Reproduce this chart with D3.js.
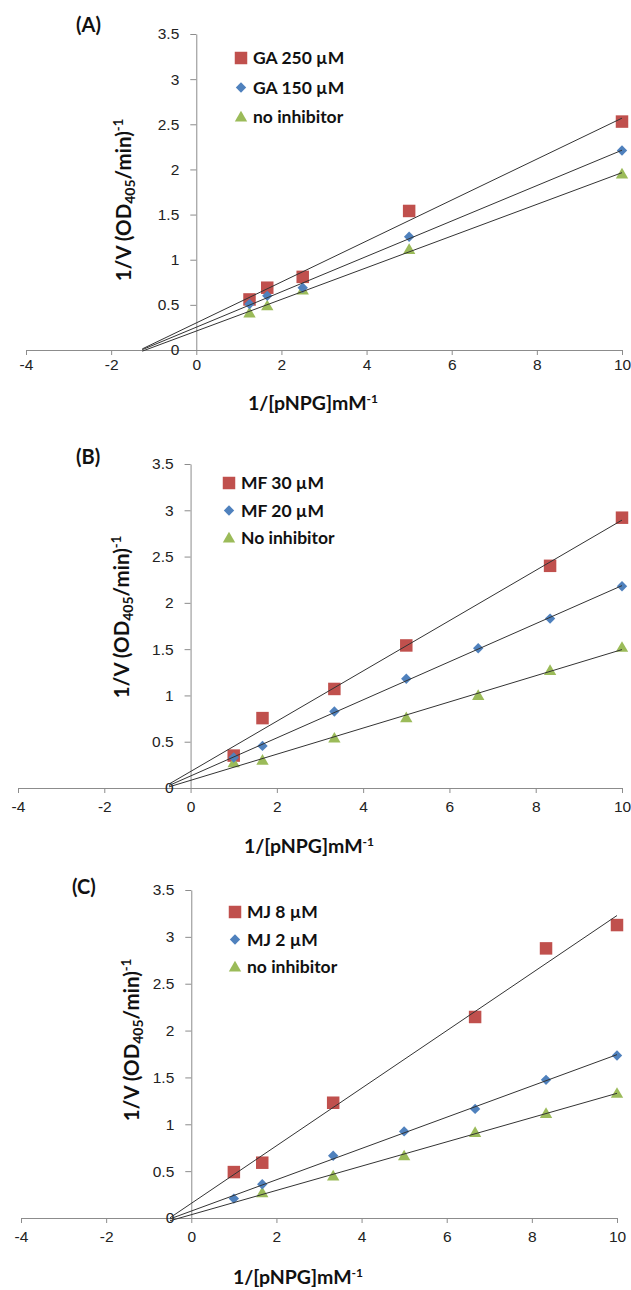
<!DOCTYPE html>
<html lang="en">
<head>
<meta charset="UTF-8">
<title>Lineweaver-Burk plots</title>
<style>
  body { margin: 0; background: #fff; }
  svg { display: block; font-family: Lato, "Open Sans", sans-serif; }
  .tick text { fill: #222; font-size: 15.5px; }
  .domain, .tick line { stroke: #8c8c8c; }
  .ttl { font-weight: bold; fill: #111; }
</style>
</head>
<body>
<svg id="chart" width="631" height="1290"></svg>
<script src="https://d3js.org/d3.v7.min.js"></script>
<script>
  // shared ticks and colours
  const xTicks = [-4, -2, 0, 2, 4, 6, 8, 10];
  const yTicks = [0, 0.5, 1, 1.5, 2, 2.5, 3, 3.5];
  const seriesColors = ["#c0504d", "#4f81bd", "#9bbb59"];
  const panelTags = ["(A)", "(B)", "(C)"];

  // (A) GA
  const xA = [1.25, 1.667, 2.5, 5, 10];
  const ga250 = [0.56, 0.69, 0.81, 1.54, 2.53];
  const ga150 = [0.51, 0.60, 0.69, 1.255, 2.21];
  const noInhA = [0.41, 0.49, 0.665, 1.115, 1.95];
  const namesA = ["GA 250 µM", "GA 150 µM", "no inhibitor"];
  const fitFromA = -1.27;

  // (B) MF
  const xB = [1, 1.667, 3.333, 5, 6.667, 8.333, 10];
  const mf30 = [0.35, 0.755, 1.07, 1.54, null, 2.40, 2.92];
  const mf20 = [0.33, 0.455, 0.827, 1.18, 1.51, 1.83, 2.18];
  const noInhB = [0.274, 0.30, 0.54, 0.76, 1.0, 1.27, 1.52];
  const namesB = ["MF 30 µM", "MF 20 µM", "No inhibitor"];
  const fitFromB = -0.5;

  // (C) MJ
  const xC = [1, 1.667, 3.333, 5, 6.667, 8.333, 10];
  const mj8 = [0.49, 0.59, 1.23, null, 2.145, 2.877, 3.126];
  const mj2 = [0.207, 0.36, 0.664, 0.924, 1.164, 1.474, 1.734];
  const noInhC = [null, 0.27, 0.45, 0.664, 0.913, 1.117, 1.331];
  const namesC = ["MJ 8 µM", "MJ 2 µM", "no inhibitor"];
  const fitFromC = -0.5;

  // pixel layout of each panel
  const layout = [
    { left: 26, right: 622, top: 34, bottom: 350, tag: [76, 25], ylab: [124, 200], xlab: [313, 403], leg: [241, 58, 29.5], pad: 4 },
    { left: 18, right: 622, top: 464, bottom: 788, tag: [76, 457], ylab: [122, 617], xlab: [309, 846], leg: [229, 483, 27.5], pad: 8 },
    { left: 21, right: 617, top: 890, bottom: 1218, tag: [72, 887], ylab: [132, 1040], xlab: [298, 1277], leg: [235, 912, 27.5], pad: 8 }
  ];

  const panels = [
    { x: xA, ys: [ga250, ga150, noInhA], names: namesA, from: fitFromA },
    { x: xB, ys: [mf30, mf20, noInhB], names: namesB, from: fitFromB },
    { x: xC, ys: [mj8, mj2, noInhC], names: namesC, from: fitFromC }
  ];

  const svg = d3.select("#chart");
  svg.append("rect").attr("width", 631).attr("height", 1290).attr("fill", "#fff");

  // least squares line, like the Excel linear trendline
  function fit(xs, ys) {
    const pts = xs.map((x, i) => [x, ys[i]]).filter(p => p[1] != null);
    const mx = d3.mean(pts, p => p[0]), my = d3.mean(pts, p => p[1]);
    const sxy = d3.sum(pts, p => (p[0] - mx) * (p[1] - my));
    const sxx = d3.sum(pts, p => (p[0] - mx) ** 2);
    const m = sxy / sxx;
    return { m: m, b: my - m * mx };
  }

  function marker(sel, k) {
    if (k === 0) {
      sel.append("path").attr("d", d3.symbol(d3.symbolSquare, 156)()).attr("fill", seriesColors[0]);
    } else if (k === 1) {
      sel.append("path").attr("d", d3.symbol(d3.symbolSquare, 54)()).attr("transform", "rotate(45)").attr("fill", seriesColors[1]);
    } else {
      sel.append("path").attr("d", d3.symbol(d3.symbolTriangle, 66)()).attr("transform", "translate(0,1)").attr("fill", seriesColors[2]);
    }
  }

  panels.forEach((p, i) => {
    const L = layout[i];
    const g = svg.append("g");

    const x = d3.scaleLinear().domain([-4, 10]).range([L.left, L.right]);
    const y = d3.scaleLinear().domain([0, 3.5]).range([L.bottom, L.top]);

    g.append("g")
      .attr("transform", `translate(0,${L.bottom})`)
      .call(d3.axisBottom(x).tickValues(xTicks).tickSize(5).tickPadding(L.pad).tickSizeOuter(0).tickFormat(d => String(d)));

    g.append("g")
      .attr("transform", `translate(${x(0)},0)`)
      .call(d3.axisLeft(y).tickValues(yTicks).tickSize(6).tickPadding(11).tickSizeOuter(0).tickFormat(d => String(d)));

    // markers: red first, then green, blue on top
    [0, 2, 1].forEach(k => {
      const pts = p.x.map((xv, j) => [xv, p.ys[k][j]]).filter(d => d[1] != null);
      g.selectAll(null).data(pts).enter().append("g")
        .attr("transform", d => `translate(${x(d[0])},${y(d[1])})`)
        .each(function () { marker(d3.select(this), k); });
    });

    // trendlines
    p.ys.forEach(ys => {
      const f = fit(p.x, ys);
      g.append("line")
        .attr("x1", x(p.from)).attr("y1", y(f.m * p.from + f.b))
        .attr("x2", x(10)).attr("y2", y(f.m * 10 + f.b))
        .attr("stroke", "#333").attr("stroke-width", 1);
    });

    // legend
    p.names.forEach((n, k) => {
      const row = g.append("g").attr("transform", `translate(${L.leg[0]},${L.leg[1] + k * L.leg[2]})`);
      marker(row, k);
      row.append("text").attr("x", 12).attr("dy", "0.35em")
        .attr("font-size", 17.5).attr("font-weight", "bold").attr("fill", "#111").text(n);
    });

    // panel tag
    g.append("text").attr("class", "ttl").attr("x", L.tag[0]).attr("y", L.tag[1]).attr("dy", "0.35em")
      .attr("font-size", 20).text(panelTags[i]);

    // axis titles
    const yt = g.append("text").attr("class", "ttl")
      .attr("transform", `translate(${L.ylab[0]},${L.ylab[1]}) rotate(-90)`)
      .attr("text-anchor", "middle").attr("dy", "0.35em").attr("font-size", 20.5);
    yt.append("tspan").text("1/V (OD");
    yt.append("tspan").attr("font-size", 14).attr("dy", 4).text("405");
    yt.append("tspan").attr("dy", -4).text("/min)");
    yt.append("tspan").attr("font-size", 13).attr("dy", -8).text("-1");

    const xt = g.append("text").attr("class", "ttl")
      .attr("x", L.xlab[0]).attr("y", L.xlab[1]).attr("text-anchor", "middle").attr("dy", "0.35em").attr("font-size", 19.5);
    xt.append("tspan").text("1/[pNPG]mM");
    xt.append("tspan").attr("font-size", 12).attr("dy", -7).text("-1");
  });
</script>
</body>
</html>
